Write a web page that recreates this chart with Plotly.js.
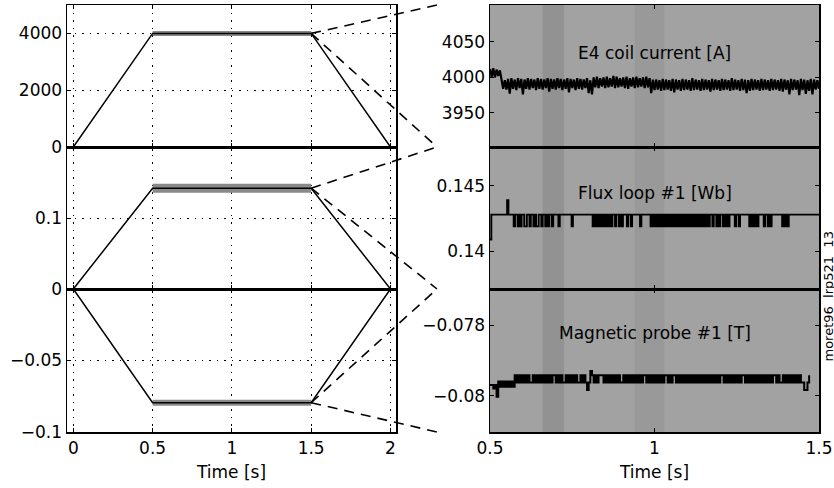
<!DOCTYPE html>
<html><head><meta charset="utf-8">
<script src="https://cdn.plot.ly/plotly-3.0.1.min.js"></script>
<style>html,body{margin:0;padding:0;background:#fff}#chart{width:834px;height:488px}</style>
</head><body><div id="chart"></div>
<script>
// ---------- Left: full discharge (0 - 2 s) ----------
const rampTime  = [0, 0.5, 1.5, 2];
const coilRamp  = [0, 4000, 4000, 0];
const fluxRamp  = [0, 0.142, 0.142, 0];
const probeRamp = [0, -0.0795, -0.0795, 0];
const leftXTicks = [0, 0.5, 1, 1.5, 2];
const leftXText  = ['0', '0.5', '1', '1.5', '2'];
const coilTicks  = [0, 2000, 4000];
const coilText   = ['0', '2000', '4000'];
const fluxTicks  = [0, 0.1];
const fluxText   = ['0', '0.1'];
const probeTicks = [-0.1, -0.05];
const probeText  = ['\u22120.1', '\u22120.05'];

// ---------- Right: zoom on flat top (0.5 - 1.5 s) ----------
const rightXTicks = [0.5, 1, 1.5];
const rightXText  = ['0.5', '1', '1.5'];
const coilZTicks = [3950, 4000, 4050];
const coilZText  = ['3950', '4000', '4050'];
const fluxZTicks = [0.14, 0.145];
const fluxZText  = ['0.14', '0.145'];
const probeZTicks = [-0.08, -0.078];
const probeZText  = ['\u22120.08', '\u22120.078'];

// E4 coil current [A], sampled every 0.005 s from 0.5 s
const coilStart = 0.5, coilStep = 0.005;
const coilZoom = [
  4012, 4001, 4013, 4000, 4011, 4002, 4010,
  3997, 3984, 3996,
  3983, 3998, 3977, 3999, 3984, 3997, 3982, 3999, 3985, 3998,
  3976, 3997, 3984, 3999, 3983, 3998, 3985, 3997, 3982, 3999,
  3984, 3998, 3983, 3997, 3985, 3999, 3980, 3998, 3984, 3997,
  3983, 3999, 3985, 3998, 3982, 3997, 3984, 3999, 3979, 3998,
  3985, 3997, 3982, 3999, 3984, 3998, 3983, 3997, 3985, 3999,
  3978, 3996, 3976, 4000, 3986, 4001, 3985, 3999, 3987, 4000,
  3985, 4001, 3986, 3999, 3987, 4002, 3985, 4001, 3986, 3999,
  3987, 4000, 3985, 4001, 3984, 3999, 3987, 4000, 3985, 4001,
  3986, 3999, 3987, 4000, 3985, 4001, 3986, 3999, 3978, 3997,
  3982, 3997, 3983, 3996, 3981, 3998, 3982, 3997, 3983, 3996,
  3981, 3998, 3979, 3997, 3983, 3996, 3981, 3998, 3982, 3997,
  3983, 3996, 3981, 3999, 3982, 3997, 3983, 3996, 3981, 3998,
  3982, 3997, 3983, 3996, 3980, 3998, 3982, 3997, 3983, 3996,
  3981, 3998, 3982, 3997, 3983, 3996, 3981, 3999, 3982, 3997,
  3983, 3996, 3981, 3998, 3982, 3997, 3978, 3996, 3981, 3998,
  3982, 3997, 3983, 3996, 3981, 3998, 3982, 3997, 3983, 3996,
  3981, 3998, 3982, 3997, 3983, 3996, 3981, 3998, 3980, 3997,
  3983, 3996, 3976, 3998, 3982, 3997, 3983, 3996, 3975, 3998,
  3982, 3997, 3977, 3996, 3981, 3998, 3976, 3997, 3983, 3996,
  3984
];

// Flux loop #1 [Wb], sampled every 0.004 s from 0.5 s (two quantisation levels)
const FH = 0.1428, FL = 0.1419;
const fluxStart = 0.5, fluxStep = 0.004;
const fluxZoom = [
  0.1409,
  FH, FH, FH, FH, FH, FH, FH, FH, FH, FH, FH, FH,
  0.1439,
  FH, FH, FH, FH,
  FL, FH, FH, FL, FH, FL, FH, FH, FL, FL, FH, FH, FL, FH, FH,
  FL, FH, FL, FL, FH, FH, FL, FH, FH, FL, FH, FL, FH, FH, FL,
  FH, FH, FH, FH,
  FL,
  FH, FH, FH, FH, FH, FH, FH, FH, FH,
  FL,
  FH, FH, FH, FH, FH, FH, FH, FH, FH, FH, FH, FH, FH, FH, FH,
  FL, FH, FL, FH, FL, FH, FL, FH, FL, FH, FL, FH, FL,
  FH, FL, FH, FH, FL, FH, FH, FL, FH, FL, FH, FH, FH, FL, FH, FH, FL,
  FH, FH, FH, FH, FH, FH, FL, FH, FH, FH, FH, FH, FH, FH,
  FL, FH, FL, FH, FL, FH, FL, FH, FL, FH, FL, FH, FL, FH, FL, FH, FL,
  FH,
  FL, FH, FL, FH, FL, FH, FL, FH, FL,
  FH,
  FL, FH, FL, FH, FL, FH, FL, FH, FL, FH, FL, FH, FL, FH, FL, FH,
  FL, FH, FH, FL, FH, FH, FL, FH, FL, FH, FH, FL, FH, FL, FH, FL,
  FH, FH, FH, FH,
  FL, FH, FH, FL,
  FH, FH, FH, FH, FH, FH, FH,
  FL, FH, FL, FH, FL, FH, FL,
  FH, FH, FH, FH,
  FL, FH, FH, FL, FH, FL,
  FH, FH, FH, FH, FH, FH, FH, FH,
  FL, FH, FL, FH, FL,
  FH, FH, FH, FH, FH, FH, FH, FH, FH, FH, FH, FH,
  FH, FH, FH, FH, FH, FH, FH, FH, FH, FH, FH, FH
];

// Magnetic probe #1 [T], sampled every 0.005 s from 0.5 s
const PH = -0.07942, PL = -0.07963;
const probeStart = 0.5, probeStep = 0.005;
const probeZoom = [
  -0.0797, -0.0797, -0.0798, -0.0797, -0.08003,
  -0.0796, -0.07975, -0.0796, -0.07975, -0.0796, -0.07975, -0.0796, -0.07975, -0.0796, -0.07975,
  PH, PL, PH, PL, PH, PL, PH, PL, PH, PL, PL, PH, PL, PH, PL,
  PH, PL, PH, PL, PH, PL, PH, PL, PH, PH, PL, PH, PL, PH, PL,
  PL, PH, PL, PH, PL, PH, PL, PH, PL, PL, PH, PL, PH, PL, -0.07984,
  PL, -0.0793, PH, PL, PH, PL, PH, PH, PH, PL, PH, PL, PH, PL, PH,
  PL, PH, PL, PH, PL, PL, PH, PL, PH, PL, PH, PL, PH, PL, PH,
  PL, PH, PL, PH, PH, PL, PH, PL, PH, PL, PH, PL, PH, PL, PH,
  PL, PH, PH, PL, PH, PL, PH, PH, PL, PH, PL, PH, PL, PH, PL,
  PH, PL, PH, PL, PH, PL, PH, PL, PH, PL, PH, PL, PH, PL, PH,
  PL, PH, PL, PH, PL, PH, PH, PL, PH, PL, PH, PL, PH, PL, PH,
  PL, PH, PL, PH, PH, PL, PH, PL, PH, PL, PH, PL, PH, PL, PH,
  PL, PH, PL, PH, PL, PH, PL, PH, PH, PL, PH, PL, PL, PH, PL,
  PH, PL, PH, PL, PH, PL, PH, PL, PH, PL, PL, -0.07984, -0.07984, PL, PH
];

const sampleTimes = (start, step, n) => Array.from({length: n}, (_, i) => start + i * step);

// ---------- geometry ----------
const W = 834, Hh = 488;
const LX = [67 / W, 396 / W], RX = [490 / W, 819 / W];
const ROW_TOP = [1 - 147 / Hh, 1 - 5 / Hh];
const ROW_MID = [1 - 289 / Hh, 1 - 147 / Hh];
const ROW_BOT = [1 - 432 / Hh, 1 - 289 / Hh];
const LXR = [-0.04, 2.035];
const R_COIL = [0, 5000], R_FLUX = [0, 0.2], R_PROBE = [-0.1, 0];
const RZ_COIL = [3902, 4102], RZ_FLUX = [0.13713, 0.14795], RZ_PROBE = [-0.08103, -0.07698];
const CONNECT_X = 437 / W;

const FONT = {family: 'DejaVu Sans', size: 17, color: '#000'};
const BAND = '#8a8a8a';

const traces = [];
function ramp(xa, ya, y, bandW) {
  traces.push({x: rampTime.slice(1, 3), y: y.slice(1, 3), xaxis: xa, yaxis: ya, mode: 'lines',
               line: {color: BAND, width: bandW}, hoverinfo: 'skip'});
  traces.push({x: rampTime, y: y, xaxis: xa, yaxis: ya, mode: 'lines',
               line: {color: '#000', width: 1.5}});
}
ramp('x', 'y', coilRamp, 5);
ramp('x2', 'y2', fluxRamp, 9);
ramp('x3', 'y3', probeRamp, 6);

traces.push({x: sampleTimes(coilStart, coilStep, coilZoom.length), y: coilZoom, xaxis: 'x4', yaxis: 'y4',
             mode: 'lines', line: {color: '#000', width: 2.2}});
traces.push({x: sampleTimes(fluxStart, fluxStep, fluxZoom.length), y: fluxZoom, xaxis: 'x5', yaxis: 'y5',
             mode: 'lines', line: {color: '#000', width: 1.9, shape: 'hv'}});
traces.push({x: sampleTimes(probeStart, probeStep, probeZoom.length), y: probeZoom, xaxis: 'x6', yaxis: 'y6',
             mode: 'lines', line: {color: '#000', width: 2, shape: 'hv'}});

function xAxis(domain, range, anchor, tv, tt, labels, grid) {
  return {domain, range, anchor, tickvals: tv, ticktext: tt, showticklabels: labels,
          ticks: 'inside', ticklen: 4, tickcolor: '#000', mirror: 'ticks', showline: true,
          linecolor: '#000', linewidth: 1.5, zeroline: false,
          showgrid: grid, gridcolor: '#000', gridwidth: 1, griddash: '1.5px,6px',
          tickfont: FONT, fixedrange: true,
          title: labels ? {text: 'Time [s]', font: FONT, standoff: 9} : {text: ''}};
}
function yAxis(domain, range, anchor, tv, tt, grid) {
  return {domain, range, anchor, tickvals: tv, ticktext: tt,
          ticks: 'inside', ticklen: 4, tickcolor: '#000', mirror: 'ticks', showline: true,
          linecolor: '#000', linewidth: 1.5, zeroline: false,
          showgrid: grid, gridcolor: '#000', gridwidth: 1, griddash: '1.5px,6px',
          tickfont: FONT, fixedrange: true};
}

function px(v, range, dom) { return dom[0] + (v - range[0]) / (range[1] - range[0]) * (dom[1] - dom[0]); }

const shapes = [];
// grey scanned background only on the zoomed panels
['4', '5', '6'].forEach(k => {
  shapes.push({type: 'rect', xref: 'x' + k + ' domain', yref: 'y' + k + ' domain', x0: 0, x1: 1, y0: 0, y1: 1,
               fillcolor: '#a2a2a2', line: {width: 0}, layer: 'below'});
});
// scanned-paper smudges on the zoomed panels
[['x4', 'y4'], ['x5', 'y5'], ['x6', 'y6']].forEach(([xa, ya]) => {
  shapes.push({type: 'rect', xref: xa, yref: ya + ' domain', x0: 0.66, x1: 0.725, y0: 0, y1: 1,
               fillcolor: 'rgba(40,40,40,0.13)', line: {width: 0}, layer: 'below'});
  shapes.push({type: 'rect', xref: xa, yref: ya + ' domain', x0: 0.94, x1: 1.03, y0: 0, y1: 1,
               fillcolor: 'rgba(40,40,40,0.07)', line: {width: 0}, layer: 'below'});
});
function connectors(yArr, yRange, rowLeft, rowRight) {
  const x0 = px(rampTime[2], LXR, LX), y0 = px(yArr[2], yRange, rowLeft);
  [rowRight[1], rowRight[0]].forEach(yEnd => shapes.push({type: 'line', xref: 'paper', yref: 'paper',
    x0, y0, x1: CONNECT_X, y1: yEnd, line: {color: '#000', width: 1.6, dash: '10px,7px'}}));
}
connectors(coilRamp, R_COIL, ROW_TOP, ROW_TOP);
connectors(fluxRamp, R_FLUX, ROW_MID, ROW_MID);
connectors(probeRamp, R_PROBE, ROW_BOT, ROW_BOT);

const annotations = [
  {xref: 'x4 domain', yref: 'y4 domain', x: 0.5, y: 0.745, text: 'E4 coil current [A]', showarrow: false, font: FONT},
  {xref: 'x5 domain', yref: 'y5 domain', x: 0.5, y: 0.76, text: 'Flux loop #1 [Wb]', showarrow: false, font: FONT},
  {xref: 'x6 domain', yref: 'y6 domain', x: 0.5, y: 0.775, text: 'Magnetic probe #1 [T]', showarrow: false, font: FONT},
  {xref: 'paper', yref: 'paper', x: 1, xanchor: 'right', xshift: 3, y: 1 - 364 / Hh, textangle: -90, showarrow: false,
   text: 'moret96\u00a0\u00a0lrp521\u00a0\u00a013', font: {family: 'DejaVu Sans', size: 13, color: '#000'}}
];

const layout = {
  width: W, height: Hh, margin: {l: 0, r: 0, t: 0, b: 0},
  paper_bgcolor: '#fff', plot_bgcolor: '#fff', showlegend: false, font: FONT,
  xaxis:  xAxis(LX, LXR, 'y',  leftXTicks, leftXText, false, true),
  xaxis2: xAxis(LX, LXR, 'y2', leftXTicks, leftXText, false, true),
  xaxis3: xAxis(LX, LXR, 'y3', leftXTicks, leftXText, true, true),
  yaxis:  yAxis(ROW_TOP, R_COIL, 'x', coilTicks, coilText, true),
  yaxis2: yAxis(ROW_MID, R_FLUX, 'x2', fluxTicks, fluxText, true),
  yaxis3: yAxis(ROW_BOT, R_PROBE, 'x3', probeTicks, probeText, true),
  xaxis4: xAxis(RX, [0.5, 1.5], 'y4', rightXTicks, rightXText, false, false),
  xaxis5: xAxis(RX, [0.5, 1.5], 'y5', rightXTicks, rightXText, false, false),
  xaxis6: xAxis(RX, [0.5, 1.5], 'y6', rightXTicks, rightXText, true, false),
  yaxis4: yAxis(ROW_TOP, RZ_COIL, 'x4', coilZTicks, coilZText, false),
  yaxis5: yAxis(ROW_MID, RZ_FLUX, 'x5', fluxZTicks, fluxZText, false),
  yaxis6: yAxis(ROW_BOT, RZ_PROBE, 'x6', probeZTicks, probeZText, false),
  shapes, annotations
};

Plotly.newPlot('chart', traces, layout, {staticPlot: true, displayModeBar: false});
</script></body></html>
